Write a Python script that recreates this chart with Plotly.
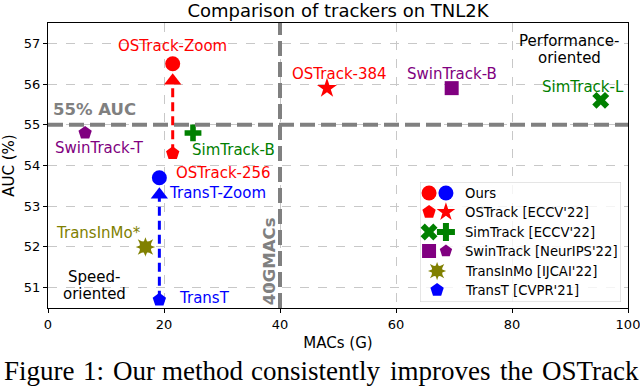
import plotly.graph_objects as go

# ---------------- data ----------------
title = "Comparison of trackers on TNL2K"
x_label = "MACs (G)"
y_label = "AUC (%)"
x_ticks = [0, 20, 40, 60, 80, 100]
y_ticks = [51, 52, 53, 54, 55, 56, 57]

ours_names = ["OSTrack-Zoom", "TransT-Zoom"]
ours_macs = [21.5, 19.2]
ours_auc = [56.5, 53.7]

ostrack_names = ["OSTrack-256", "OSTrack-384"]
ostrack_macs = [21.5, 48.1]
ostrack_auc = [54.3, 55.9]

simtrack_names = ["SimTrack-B", "SimTrack-L"]
simtrack_macs = [25.0, 95.3]
simtrack_auc = [54.8, 55.6]

swintrack_names = ["SwinTrack-T", "SwinTrack-B"]
swintrack_macs = [6.4, 69.6]
swintrack_auc = [54.8, 55.9]

transinmo_names = ["TransInMo*"]
transinmo_macs = [16.8]
transinmo_auc = [52.0]

transt_names = ["TransT"]
transt_macs = [19.2]
transt_auc = [50.7]

auc_threshold = 55
macs_threshold = 40
auc_threshold_label = "55% AUC"
macs_threshold_label = "40GMACs"
region_labels = ["Performance-", "oriented", "Speed-", "oriented"]

legend_labels = ["Ours", "OSTrack [ECCV'22]", "SimTrack [ECCV'22]",
                 "SwinTrack [NeurIPS'22]", "TransInMo [IJCAI'22]", "TransT [CVPR'21]"]

caption_words = ["Figure", "1:", "Our", "method", "consistently",
                 "improves", "the", "OSTrack"]

# ---------------- styles ----------------
RED, BLUE, GREEN, PURPLE, OLIVE, GRAY = "#ff0000", "#0000ff", "#008000", "#800080", "#808000", "#808080"
FONT = "DejaVu Sans"
W, H = 640, 386
L, R, T, B = 48, 12, 23, 78
PW, PH = W - L - R, H - T - B

def px_x(px):  # pixel -> paper x
    return (px - L) / PW

def px_y(py):  # pixel -> paper y
    return (H - B - py) / PH

fig = go.Figure()

# arrows (from baseline to zoom version)
def arrow(x0, y0, x1, y1, color):
    head_off = 0.42
    fig.add_trace(go.Scatter(x=[x0, x1], y=[y0, y1 - head_off], mode="lines",
                             line=dict(color=color, width=3, dash="9px,5px"),
                             showlegend=False, hoverinfo="skip"))
    fig.add_trace(go.Scatter(x=[x1], y=[y1 - head_off], mode="markers",
                             marker=dict(symbol="triangle-up", size=15, color=color),
                             showlegend=False, hoverinfo="skip"))

arrow(ostrack_macs[0], ostrack_auc[0], ours_macs[0], ours_auc[0], RED)
arrow(transt_macs[0], transt_auc[0], ours_macs[1], ours_auc[1], BLUE)

def pts(xs, ys, symbol, size, color):
    fig.add_trace(go.Scatter(x=xs, y=ys, mode="markers",
                             marker=dict(symbol=symbol, size=size, color=color, line=dict(width=0)),
                             showlegend=False))

pts(ours_macs, ours_auc, "circle", 15, [RED, BLUE])
pts(ostrack_macs[:1], ostrack_auc[:1], "pentagon", 14, RED)
pts(ostrack_macs[1:], ostrack_auc[1:], "star", 15, RED)
pts(simtrack_macs[:1], simtrack_auc[:1], "cross", 14, GREEN)
pts(simtrack_macs[1:], simtrack_auc[1:], "x", 15, GREEN)
pts(swintrack_macs[:1], swintrack_auc[:1], "pentagon", 14, PURPLE)
pts(swintrack_macs[1:], swintrack_auc[1:], "square", 14, PURPLE)
pts(transinmo_macs, transinmo_auc, "circle", 9, OLIVE)
pts(transinmo_macs, transinmo_auc, "star-square", 14, OLIVE)
pts(transinmo_macs, transinmo_auc, "star-diamond", 14, OLIVE)
pts(transt_macs, transt_auc, "pentagon", 14, BLUE)

# threshold lines
fig.add_shape(type="line", xref="x", yref="y", x0=0, x1=100, y0=auc_threshold, y1=auc_threshold,
              line=dict(color=GRAY, width=4, dash="15px,6px"), layer="above")
fig.add_shape(type="line", xref="x", yref="y", x0=macs_threshold, x1=macs_threshold, y0=50.5, y1=57.5,
              line=dict(color=GRAY, width=4, dash="15px,6px"), layer="above")

# point labels (text, x, y, color)
labels = [
    (ours_names[0], 21.5, 56.93, RED),
    (ostrack_names[1], 50.2, 56.25, RED),
    (swintrack_names[1], 69.6, 56.25, PURPLE),
    (simtrack_names[1], 92.2, 55.92, GREEN),
    (swintrack_names[0], 8.9, 54.44, PURPLE),
    (simtrack_names[0], 31.9, 54.39, GREEN),
    (ostrack_names[0], 30.3, 53.82, RED),
    (ours_names[1], 29.2, 53.33, BLUE),
    (transinmo_names[0], 8.75, 52.35, OLIVE),
    (transt_names[0], 27.0, 50.74, BLUE),
    (region_labels[0], 89.9, 57.05, "black"),
    (region_labels[1], 89.9, 56.63, "black"),
    (region_labels[2], 8.0, 51.27, "black"),
    (region_labels[3], 8.0, 50.84, "black"),
]
for txt, x, y, c in labels:
    fig.add_annotation(x=x, y=y, xref="x", yref="y", text=txt, showarrow=False,
                       font=dict(family=FONT, size=15, color=c), xanchor="center", yanchor="middle")

fig.add_annotation(x=8.0, y=55.37, xref="x", yref="y", text="<b>%s</b>" % auc_threshold_label,
                   showarrow=False, font=dict(family=FONT, size=16.5, color=GRAY))
fig.add_annotation(x=38.2, y=51.64, xref="x", yref="y", text="<b>%s</b>" % macs_threshold_label,
                   showarrow=False, textangle=-90, font=dict(family=FONT, size=16.5, color=GRAY))

# ---------------- manual legend on an inset axis ----------------
leg_x0, leg_x1, leg_y0, leg_y1 = px_x(420), px_x(621), px_y(302), px_y(182)
fig.add_trace(go.Scatter(x=[0, 1, 1, 0, 0], y=[0, 0, 1, 1, 0], mode="lines", fill="toself",
                         fillcolor="rgba(255,255,255,0.8)", line=dict(color="#cccccc", width=1),
                         xaxis="x2", yaxis="y2", showlegend=False, hoverinfo="skip"))
rows = [0.908, 0.75, 0.583, 0.425, 0.258, 0.1]
pair_x = [0.045, 0.129]
single_x = 0.085
text_x = 0.214
legend_markers = [
    [("circle", 15, RED), ("circle", 15, BLUE)],
    [("pentagon", 14, RED), ("star", 14, RED)],
    [("x", 15, GREEN), ("cross", 15, GREEN)],
    [("square", 14, PURPLE), ("pentagon", 13, PURPLE)],
    [("olive", 0, OLIVE)],
    [("pentagon", 14, BLUE)],
]
for row_y, mk in zip(rows, legend_markers):
    xs = pair_x if len(mk) == 2 else [single_x]
    for (sym, sz, col), xx in zip(mk, xs):
        if sym == "olive":
            for s2, z2 in [("circle", 8), ("star-square", 13), ("star-diamond", 13)]:
                fig.add_trace(go.Scatter(x=[xx], y=[row_y], mode="markers", xaxis="x2", yaxis="y2",
                                         marker=dict(symbol=s2, size=z2, color=col, line=dict(width=0)),
                                         showlegend=False, hoverinfo="skip"))
        else:
            fig.add_trace(go.Scatter(x=[xx], y=[row_y], mode="markers", xaxis="x2", yaxis="y2",
                                     marker=dict(symbol=sym, size=sz, color=col, line=dict(width=0)),
                                     showlegend=False, hoverinfo="skip"))
for row_y, lab in zip(rows, legend_labels):
    fig.add_annotation(x=text_x, y=row_y, xref="x2", yref="y2", text=lab, showarrow=False,
                       xanchor="left", yanchor="middle", font=dict(family=FONT, size=13.2, color="black"))

# ---------------- caption (justified line: each word placed) ----------------
caption_left = [2, 81, 111, 160, 249, 388, 498, 540]
for word, px in zip(caption_words, caption_left):
    fig.add_annotation(x=px_x(px), y=px_y(371), xref="paper", yref="paper", text=word,
                       showarrow=False, xanchor="left", yanchor="middle",
                       font=dict(family="Liberation Serif", size=27, color="black"))

# ---------------- layout ----------------
axis_common = dict(showline=True, linecolor="black", linewidth=1, mirror=True,
                   ticks="outside", ticklen=4, tickcolor="black", automargin=False,
                   ticklabeloverflow="allow",
                   showgrid=True, gridcolor="#c8c8c8", gridwidth=1, griddash="dash",
                   zeroline=False, tickfont=dict(family=FONT, size=13, color="black"))
fig.update_layout(
    width=W, height=H,
    margin=dict(l=L, r=R, t=T, b=B, autoexpand=False),
    paper_bgcolor="white", plot_bgcolor="rgba(0,0,0,0)",
    title=dict(text=title, x=px_x(338), xref="paper", y=1 - 11 / H, yanchor="middle", xanchor="center",
               font=dict(family=FONT, size=18, color="black")),
    xaxis=dict(range=[0, 100], tickvals=x_ticks, **axis_common,
               title=dict(text=x_label, font=dict(family=FONT, size=15, color="black"), standoff=6)),
    yaxis=dict(range=[50.5, 57.5], tickvals=y_ticks, **axis_common,
               title=dict(text=y_label, font=dict(family=FONT, size=15, color="black"), standoff=6)),
    xaxis2=dict(domain=[leg_x0, leg_x1], range=[0, 1], anchor="y2", visible=False),
    yaxis2=dict(domain=[leg_y0, leg_y1], range=[0, 1], anchor="x2", visible=False),
    showlegend=False,
)

fig.write_html("out.html", config={"displayModeBar": False},
               post_script="document.body.style.margin='0px';document.body.style.overflow='hidden';")
